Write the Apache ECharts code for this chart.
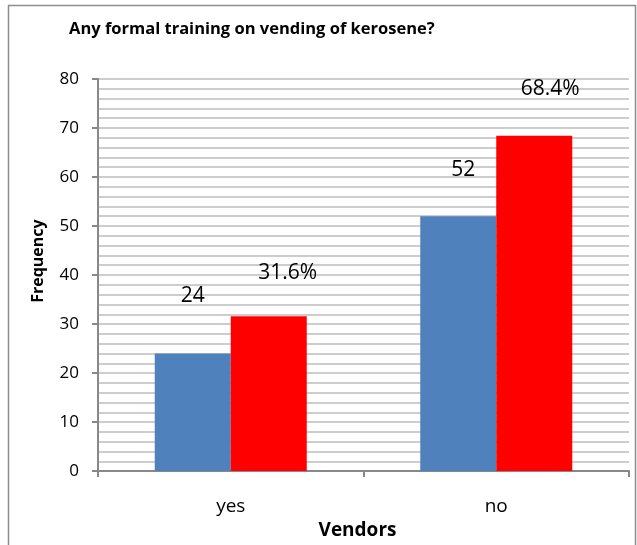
<!DOCTYPE html>
<html>
<head>
<meta charset="utf-8">
<script src="https://cdn.jsdelivr.net/npm/echarts@6/dist/echarts.min.js"></script>
<style>
  html, body { margin: 0; padding: 0; background: #fff; }
  #chart { width: 637px; height: 545px; }
</style>
</head>
<body>
<div id="chart"></div>
<script>
// data
var categories = ['yes', 'no'];
var frequency = [24, 52];
var percent = [31.6, 68.4];
var yTicks = [0, 10, 20, 30, 40, 50, 60, 70, 80];

// hand placed labels in the original, shift from default 'top' spot
var freqLabelShift = [[0, -42], [5, -31]];
var pctLabelShift = [[19, -28], [16, -31]];

var font = 'Open Sans';

function withLabels(values, shifts) {
  return values.map(function (v, i) {
    return { value: v, label: { offset: shifts[i] } };
  });
}

var chart = echarts.init(document.getElementById('chart'));

var option = {
  backgroundColor: '#fff',
  animation: false,
  title: {
    text: 'Any formal training on vending of kerosene?',
    left: 64,
    top: 16,
    textStyle: { fontFamily: font, fontSize: 16.5, fontWeight: 'bold', color: '#000' }
  },
  graphic: [{
    type: 'rect',
    shape: { x: 8.5, y: 5.5, width: 627, height: 560 },
    style: { fill: null, stroke: '#8c8c8c', lineWidth: 1.5 },
    silent: true
  }],
  grid: { left: 98, right: 8, top: 79, bottom: 71 },
  xAxis: {
    type: 'category',
    data: categories,
    boundaryGap: true,
    name: 'Vendors',
    nameLocation: 'middle',
    nameGap: 41,
    nameTextStyle: { fontFamily: font, fontSize: 19, fontWeight: 'bold', color: '#000', padding: [0, 12, 0, 0] },
    axisLine: { lineStyle: { color: '#888', width: 2 } },
    axisTick: { show: true, length: 6, lineStyle: { color: '#888', width: 2 } },
    axisLabel: { fontFamily: font, fontSize: 19, color: '#000', margin: 26 },
    splitLine: { show: false }
  },
  yAxis: {
    type: 'value',
    min: 0,
    max: 80,
    interval: 10,
    name: 'Frequency',
    nameLocation: 'middle',
    nameGap: 52,
    nameRotate: 90,
    nameTextStyle: { fontFamily: font, fontSize: 16, fontWeight: 'bold', color: '#000', padding: [0, 0, 0, 28] },
    axisLine: { show: true, lineStyle: { color: '#888', width: 2 } },
    axisTick: { show: true, length: 6, lineStyle: { color: '#888', width: 2 } },
    axisLabel: {
      fontFamily: font, fontSize: 17, color: '#000', margin: 19,
      formatter: function (v) { return yTicks.indexOf(v) >= 0 ? String(v) : ''; }
    },
    splitLine: { show: true, lineStyle: { color: '#bdbdbd', width: 1.5 } },
    minorTick: { show: false, splitNumber: 5 },
    minorSplitLine: { show: true, lineStyle: { color: '#bdbdbd', width: 1.5 } }
  },
  series: [
    {
      name: 'Frequency',
      type: 'bar',
      data: withLabels(frequency, freqLabelShift),
      barWidth: 76,
      barGap: '0%',
      itemStyle: { color: '#4F81BD' },
      label: {
        show: true, position: 'top', fontFamily: font, fontSize: 21, color: '#000'
      }
    },
    {
      name: 'Percent',
      type: 'bar',
      data: withLabels(percent, pctLabelShift),
      barWidth: 76,
      barGap: '0%',
      itemStyle: { color: '#FF0000' },
      label: {
        show: true, position: 'top', fontFamily: font, fontSize: 21, color: '#000',
        formatter: function (p) { return p.value + '%'; }
      }
    }
  ]
};

chart.setOption(option);
</script>
</body>
</html>
